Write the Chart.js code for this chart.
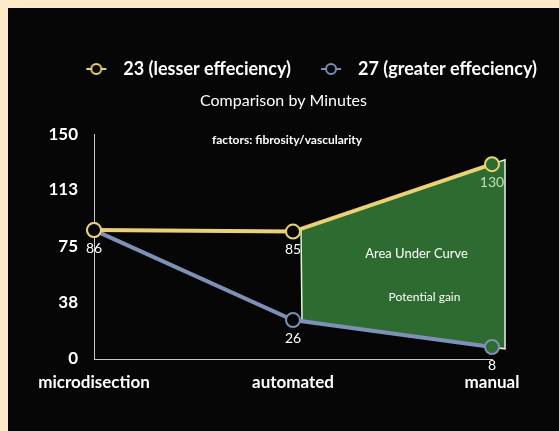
<!DOCTYPE html>
<html>
<head>
<meta charset="utf-8">
<script src="https://cdn.jsdelivr.net/npm/chart.js@4"></script>
<style>
  html, body { margin: 0; padding: 0; background: #fde8c8; }
  #frame { position: absolute; left: 8px; top: 8px; width: 551px; height: 423px; background: #060606; }
</style>
</head>
<body>
<div id="frame"><canvas id="chart" width="551" height="423"></canvas></div>
<script>
const categories = ["microdisection", "automated", "manual"];
const lesserMinutes = [86, 85, 130];
const greaterMinutes = [86, 26, 8];
const seriesNames = ["23 (lesser effeciency)", "27 (greater effeciency)"];
const yTicks = [0, 38, 75, 113, 150];

const YELLOW = "#ecd174";
const BLUE = "#7d90b5";
const BG = "#060606";
const GREEN = "#2e6b30";
const FONT = "Lato";

// legend icon: short line through a small ring
function legendIcon(color) {
  const c = document.createElement("canvas");
  c.width = 22;
  c.height = 14;
  const g = c.getContext("2d");
  g.strokeStyle = color;
  g.lineWidth = 2;
  g.beginPath();
  g.moveTo(1, 7);
  g.lineTo(21, 7);
  g.stroke();
  g.fillStyle = BG;
  g.beginPath();
  g.arc(11, 7, 5, 0, Math.PI * 2);
  g.fill();
  g.stroke();
  return c;
}
const icons = [legendIcon(YELLOW), legendIcon(BLUE)];

// point at horizontal offset dx from p, on the line through p and q
function along(p, q, dx) {
  const t = dx / (q.x - p.x);
  return { x: p.x + dx, y: p.y + (q.y - p.y) * t };
}

// ================= PLUGINS =================
const gainArea = {
  id: "gainArea",
  beforeDatasetsDraw(chart) {
    const a = chart.getDatasetMeta(0).data;
    const b = chart.getDatasetMeta(1).data;
    const span = a[2].x - a[1].x;
    const pts = [
      along(a[1], a[2], 8),
      along(a[1], a[2], span + 13),
      along(b[1], b[2], span + 13),
      along(b[1], b[2], 9)
    ];
    const ctx = chart.ctx;
    ctx.save();
    ctx.beginPath();
    pts.forEach((p, i) => (i ? ctx.lineTo(p.x, p.y) : ctx.moveTo(p.x, p.y)));
    ctx.closePath();
    ctx.fillStyle = GREEN;
    ctx.fill();
    ctx.strokeStyle = "#e8efe6";
    ctx.lineWidth = 1.5;
    ctx.stroke();
    ctx.restore();
  }
};

const labelsPlugin = {
  id: "pointLabels",
  afterDatasetsDraw(chart) {
    const ctx = chart.ctx;
    const x = chart.scales.x;
    const y = chart.scales.y;
    ctx.save();
    ctx.textAlign = "center";
    ctx.textBaseline = "middle";

    // value labels under each point
    ctx.font = "14px " + FONT;
    const seen = {};
    chart.data.datasets.forEach((ds, di) => {
      chart.getDatasetMeta(di).data.forEach((pt, i) => {
        const key = i + ":" + ds.data[i];
        if (seen[key]) return;
        seen[key] = true;
        ctx.fillStyle = (di === 0 && i === 2) ? "#c5ddb5" : "#ffffff";
        ctx.fillText(String(ds.data[i]), pt.x, pt.y + 18);
      });
    });

    // notes
    ctx.fillStyle = "#ffffff";
    const mid = (x.getPixelForValue(1) + x.getPixelForValue(2)) / 2;
    ctx.font = "13px " + FONT;
    ctx.fillText("Area Under Curve", mid + 24, y.getPixelForValue(70));
    ctx.font = "12px " + FONT;
    ctx.fillText("Potential gain", mid + 32, y.getPixelForValue(41));
    ctx.font = "bold 12px " + FONT;
    ctx.textAlign = "left";
    ctx.fillText("factors: fibrosity/vascularity", chart.chartArea.left + 118, chart.chartArea.top + 6);
    ctx.restore();
  }
};

// ================= CHART =================
const ctx = document.getElementById("chart").getContext("2d");

new Chart(ctx, {
  type: "line",
  data: {
    labels: categories,
    datasets: [
      {
        label: seriesNames[0],
        data: lesserMinutes,
        borderColor: YELLOW,
        borderWidth: 4,
        pointRadius: 7,
        pointBorderWidth: 2,
        pointBorderColor: YELLOW,
        pointBackgroundColor: [BG, BG, GREEN],
        tension: 0,
        fill: false
      },
      {
        label: seriesNames[1],
        data: greaterMinutes,
        borderColor: BLUE,
        borderWidth: 4,
        pointRadius: 7,
        pointBorderWidth: 2,
        pointBorderColor: BLUE,
        pointBackgroundColor: [BG, BG, GREEN],
        tension: 0,
        fill: false
      }
    ]
  },
  options: {
    responsive: false,
    animation: false,
    layout: {
      padding: { top: 30, right: 0, left: 0, bottom: 0 }
    },
    plugins: {
      tooltip: { enabled: false },
      legend: {
        position: "top",
        align: "end",
        weight: 3000,
        labels: {
          color: "#ffffff",
          font: { family: FONT, size: 18, weight: "bold" },
          usePointStyle: true,
          pointStyleWidth: 36,
          padding: 22,
          generateLabels(chart) {
            return Chart.defaults.plugins.legend.labels.generateLabels(chart)
              .map((l, i) => ({ ...l, pointStyle: icons[i] }));
          }
        }
      },
      title: {
        display: true,
        text: "Comparison by Minutes",
        color: "#ffffff",
        font: { family: FONT, size: 16, weight: "normal" },
        padding: { top: 3, bottom: 24 }
      }
    },
    scales: {
      x: {
        grid: { display: false, drawTicks: false },
        border: { display: true, color: "#c8c8c8", width: 1 },
        ticks: {
          color: "#ffffff",
          font: { family: FONT, size: 17, weight: "bold" },
          padding: 13,
          maxRotation: 0
        },
        afterFit(s) { s.height = 72; }
      },
      y: {
        min: 0,
        max: 150,
        grid: { display: false, drawTicks: false },
        border: { display: true, color: "#c8c8c8", width: 1 },
        afterBuildTicks(s) { s.ticks = yTicks.map(v => ({ value: v })); },
        ticks: {
          color: "#ffffff",
          font: { family: FONT, size: 17, weight: "bold" },
          padding: 16
        },
        afterFit(s) { s.width = 86; }
      },
      // empty axis on the right: keeps plot narrower than the legend row
      y2: {
        position: "right",
        grid: { display: false, drawTicks: false },
        border: { display: false },
        ticks: { display: false },
        afterFit(s) { s.width = 67; }
      }
    }
  },
  plugins: [gainArea, labelsPlugin]
});
</script>
</body>
</html>
